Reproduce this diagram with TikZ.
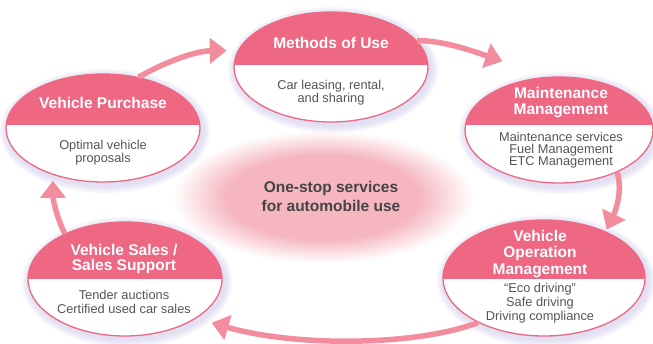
\documentclass[tikz,border=0pt]{standalone}
\usepackage{fontspec}
\setsansfont{Liberation Sans}
\usetikzlibrary{arrows.meta}
\usetikzlibrary{shapes}
\usetikzlibrary{fadings}

\definecolor{headpink}{HTML}{EE6783}
\definecolor{flowpink}{HTML}{F38C9D}
\definecolor{hubpink}{HTML}{F5B6C0}
\definecolor{glowlilac}{HTML}{CFCBEA}
\definecolor{bodygrey}{HTML}{555555}
\definecolor{hubgrey}{HTML}{444444}

\pgfdeclareradialshading{hubshade}{\pgfpointorigin}{color(0bp)=(white); color(16bp)=(white); color(25bp)=(black); color(50bp)=(black)}
\pgfdeclarefading{hubfade}{\pgfuseshading{hubshade}}

\begin{document}
\begin{tikzpicture}[x=1pt, y=-1pt, every node/.style={font=\sffamily, align=center, inner sep=0pt},
  stagebox/.style={shape=ellipse, draw=headpink, line width=1.3pt, fill=white, inner sep=0pt},
  headline/.style={text=white, font=\sffamily\bfseries\fontsize{15.5}{16.5}\selectfont},
  bodytext/.style={text=bodygrey, font=\sffamily\fontsize{12.8}{13.5}\selectfont},
  hubtext/.style={text=hubgrey, font=\sffamily\bfseries\fontsize{15.5}{19}\selectfont},
  flow/.style={draw=flowpink, line width=5.5pt, -{Triangle[length=17pt, width=25pt]}}]
\useasboundingbox (0,0) rectangle (653,344);

\fill[hubpink, path fading=hubfade] (323,197) ellipse [x radius=150, y radius=66];
\node[hubtext] (hub) at (331,196.5) {One-stop services\\for automobile use};

\foreach \n/\cx/\cy/\rx/\ry/\d in {purchase/103/128/97/54/125, usage/331/67/97/55/65, maint/559/130/94/53/125, operation/544/278/101/58/279, sales/125/279/97/57/279}{
  \foreach \g in {1,...,5}
    \fill[glowlilac, opacity=0.17] (\cx+2,\cy+3) ellipse [x radius=\rx+\g*1.6, y radius=\ry+\g*1.6];
  \node[stagebox, minimum width=2*\rx, minimum height=2*\ry] (\n) at (\cx,\cy) {};
  \begin{scope}
    \clip (\cx,\cy) ellipse [x radius=\rx, y radius=\ry];
    \fill[headpink] (\cx-\rx,\cy-\ry) rectangle (\cx+\rx,\d);
  \end{scope}
}

\node[headline] (purchaseT) at (103,103) {Vehicle Purchase};
\node[bodytext] (purchaseB) at (103,152.5) {Optimal vehicle\\proposals};
\node[headline] (usageT) at (331,43) {Methods of Use};
\node[bodytext] (usageB) at (331,92.5) {Car leasing, rental,\\and sharing};
\node[headline] (maintT) at (561,102.5) {Maintenance\\Management};
\node[bodytext, font=\sffamily\fontsize{12.8}{11.5}\selectfont] (maintB) at (561,150.5) {Maintenance services\\Fuel Management\\ETC Management};
\node[headline] (operationT) at (540,254) {Vehicle\\Operation\\Management};
\node[bodytext, font=\sffamily\fontsize{12.8}{14}\selectfont] (operationB) at (540,303) {“Eco driving”\\Safe driving\\Driving compliance};
\node[headline, font=\sffamily\bfseries\fontsize{15.5}{15}\selectfont] (salesT) at (124,259) {Vehicle Sales /\\Sales Support};
\node[bodytext] (salesB) at (124,302) {Tender auctions\\Certified used car sales};

\draw[flow, shorten >=11pt] (purchase.55) .. controls (165,62) and (195,51) .. (usage.170);
\draw[flow, shorten >=47pt] (usage.17) .. controls (440,40) and (470,50) .. (maint.103);
\draw[flow, shorten >=2pt] (maint.-36) .. controls (623,192) and (615,212) .. (operation.37);
\draw[flow, shorten >=16pt] (operation.214) .. controls (420,345) and (300,348) .. (sales.-29);
\draw[flow, shorten >=6pt] (sales.143) .. controls (57,218) and (53,200) .. (purchase.223);
\end{tikzpicture}
\end{document}
